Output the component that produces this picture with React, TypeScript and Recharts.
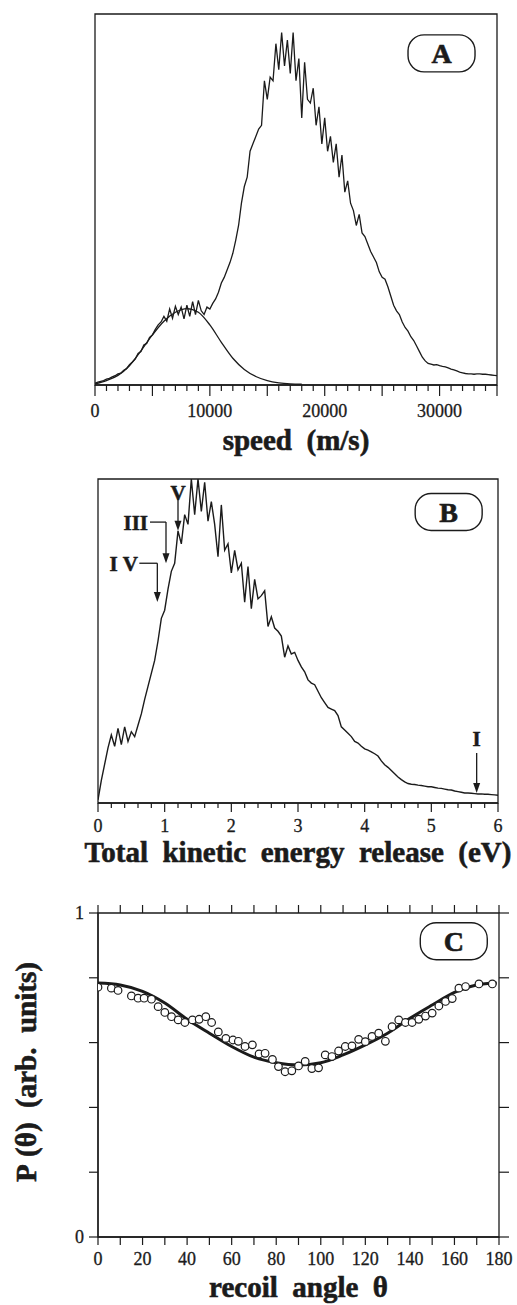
import React from "react";
import {
  LineChart,
  ComposedChart,
  Line,
  Scatter,
  XAxis,
  YAxis,
  Label,
  ReferenceLine,
  ReferenceDot,
  ReferenceArea,
} from "recharts";

const INK = "#1b1b1b";
const SERIF = "Liberation Serif, Times New Roman, Tinos, Times, DejaVu Serif, Noto Serif, serif";

// ---- A: fragment speed distribution (250 m/s bins) ----
const speedStep = 250;
const speedTotal = [
  0.005, 0.008, 0.01, 0.012, 0.016, 0.018, 0.022, 0.025, 0.03, 0.032,
  0.04, 0.044, 0.055, 0.062, 0.07, 0.085, 0.09, 0.108, 0.112, 0.128,
  0.135, 0.15, 0.162, 0.17, 0.185, 0.172, 0.205, 0.18, 0.212, 0.19,
  0.21, 0.178, 0.215, 0.185, 0.225, 0.19, 0.228, 0.2, 0.19, 0.21,
  0.205, 0.22, 0.232, 0.25, 0.275, 0.29, 0.31, 0.33, 0.355, 0.39,
  0.43, 0.49, 0.535, 0.56, 0.63, 0.65, 0.67, 0.69, 0.7, 0.82,
  0.77, 0.83, 0.82, 0.92, 0.85, 0.95, 0.86, 0.93, 0.84, 0.95,
  0.82, 0.88, 0.72, 0.87, 0.77, 0.76, 0.8, 0.7, 0.75, 0.65,
  0.72, 0.63, 0.67, 0.6, 0.65, 0.56, 0.62, 0.52, 0.55, 0.49,
  0.47, 0.43, 0.46, 0.41, 0.4, 0.38, 0.36, 0.345, 0.33, 0.305,
  0.29, 0.285, 0.265, 0.24, 0.215, 0.2, 0.19, 0.17, 0.155, 0.145,
  0.13, 0.12, 0.105, 0.09, 0.075, 0.065, 0.058, 0.056, 0.054, 0.055,
  0.052, 0.05, 0.049, 0.046, 0.043, 0.041, 0.038, 0.035, 0.033, 0.031,
  0.03, 0.03, 0.029, 0.03, 0.03, 0.029, 0.029, 0.028, 0.027, 0.026,
  0.025,
];
// slow component fitted under the low-speed shoulder
const slowSpeeds = [
  0, 1000, 2000, 3000, 4000, 5000, 6000, 7000, 8000, 9000,
  10000, 11000, 12000, 13000, 14000, 15000, 16000, 17000, 18000,
];
const slowValues = [
  0.003, 0.012, 0.026, 0.052, 0.092, 0.135, 0.172, 0.196, 0.206, 0.196,
  0.162, 0.115, 0.072, 0.042, 0.023, 0.012, 0.006, 0.003, 0.002,
];
const speedTickLabels = [0, 10000, 20000, 30000];

// ---- B: total kinetic energy release (0.05 eV bins) ----
const energyStep = 0.05;
const energyTotal = [
  0.01, 0.07, 0.12, 0.17, 0.21, 0.175, 0.23, 0.18, 0.235, 0.19,
  0.22, 0.205, 0.24, 0.275, 0.32, 0.36, 0.4, 0.44, 0.5, 0.57,
  0.595, 0.66, 0.715, 0.74, 0.84, 0.8, 0.89, 0.86, 1.0, 0.89,
  1.0, 0.9, 0.99, 0.87, 0.93, 0.86, 0.76, 0.92, 0.78, 0.8,
  0.71, 0.78, 0.72, 0.74, 0.62, 0.73, 0.6, 0.69, 0.63, 0.64,
  0.655, 0.545, 0.575, 0.54, 0.53, 0.515, 0.45, 0.485, 0.46, 0.465,
  0.44, 0.42, 0.405, 0.38, 0.37, 0.365, 0.345, 0.325, 0.31, 0.295,
  0.29, 0.285, 0.27, 0.235, 0.225, 0.215, 0.205, 0.19, 0.185, 0.175,
  0.167, 0.163, 0.158, 0.152, 0.145, 0.13, 0.118, 0.11, 0.1, 0.09,
  0.08, 0.072, 0.065, 0.06, 0.058, 0.057, 0.055, 0.054, 0.052, 0.05,
  0.05, 0.048, 0.046, 0.045, 0.043, 0.041, 0.04, 0.037, 0.035, 0.033,
  0.031, 0.031, 0.03, 0.029, 0.028, 0.028, 0.027, 0.027, 0.026, 0.025,
  0.024,
];
const energyTickLabels = [0, 1, 2, 3, 4, 5, 6];

// channel thresholds marked on the energy spectrum
const channelArrows = [
  { name: "V", labelE: 1.2, labelY: 0.957, anchor: "middle", elbow: null, x: 1.2, from: 0.94, to: 0.84 },
  { name: "III", labelE: 0.75, labelY: 0.867, anchor: "end", elbow: 0.78, x: 1.02, from: 0.867, to: 0.74 },
  { name: "I\u00a0V", labelE: 0.6, labelY: 0.74, anchor: "end", elbow: 0.62, x: 0.89, from: 0.74, to: 0.62 },
  { name: "I", labelE: 5.68, labelY: 0.2, anchor: "middle", elbow: null, x: 5.68, from: 0.154, to: 0.031 },
];

// ---- C: recoil angular distribution ----
const angleTickLabels = [0, 20, 40, 60, 80, 100, 120, 140, 160, 180];
const pointAngles = [
  0, 6, 9, 15, 18, 20.7, 24, 27, 30, 33, 36, 39, 42.4, 45.4, 48.4, 51, 54, 57.4,
  60.6, 63, 66, 69.3, 72.3, 75, 78.3, 81, 84, 87, 90, 93, 96, 99, 102, 105, 108,
  111, 114, 117, 120, 123, 126, 129, 132, 135, 138, 141, 144, 147, 150, 153, 156,
  159, 162, 165, 171, 177,
];
const pointValues = [
  0.771, 0.768, 0.761, 0.744, 0.737, 0.737, 0.734, 0.711, 0.693, 0.68, 0.67, 0.662,
  0.67, 0.672, 0.68, 0.662, 0.633, 0.613, 0.608, 0.604, 0.588, 0.593, 0.565, 0.567,
  0.548, 0.526, 0.51, 0.513, 0.528, 0.542, 0.52, 0.522, 0.562, 0.557, 0.574, 0.588,
  0.59, 0.61, 0.603, 0.619, 0.629, 0.604, 0.649, 0.67, 0.662, 0.662, 0.672, 0.682,
  0.691, 0.713, 0.727, 0.736, 0.768, 0.773, 0.781, 0.781,
];
const fitAngles = [0, 10, 20, 30, 40, 50, 60, 70, 80, 90, 100, 110, 120, 130, 140, 150, 160, 170, 179];
const fitValues = [
  0.784, 0.778, 0.758, 0.722, 0.672, 0.629, 0.588, 0.555, 0.538, 0.531,
  0.538, 0.562, 0.593, 0.629, 0.675, 0.716, 0.755, 0.778, 0.784,
];

const speedData = speedTotal.map((v, i) => ({ x: i * speedStep, y: v }));
const slowData = slowSpeeds.map((s, i) => ({ x: s, y: slowValues[i] }));
const energyData = energyTotal.map((v, i) => ({ x: +(i * energyStep).toFixed(2), y: v }));
const pointData = pointAngles.map((a, i) => ({ x: a, y: pointValues[i] }));
const fitData = fitAngles.map((a, i) => ({ x: a, y: fitValues[i] }));

const speedTicks = Array.from({ length: 36 }, (_, i) => i * 1000);
const energyTicks = Array.from({ length: 31 }, (_, i) => +(i * 0.2).toFixed(1));
const angleTicks = Array.from({ length: 19 }, (_, i) => i * 10);
const pTicks = [0, 0.2, 0.4, 0.6, 0.8, 1];

const near = (a: number, b: number) => Math.abs(a - b) < 1e-6;
const isMultiple = (v: number, m: number) => near(v / m, Math.round(v / m));

const frameLine = { stroke: INK, strokeWidth: 1.3 };

function bottomTick(labels: number[], major: number, long: number, short: number, baseline: number) {
  return (props: any) => {
    const { x, y, payload } = props;
    const v = payload.value;
    const len = isMultiple(v, major) ? long : short;
    const labelled = labels.some((l) => near(l, v));
    return (
      <g>
        <line x1={x} x2={x} y1={y} y2={y + len} stroke={INK} strokeWidth={1.2} />
        {labelled && (
          <text
            x={x}
            y={y + baseline}
            textAnchor="middle"
            fontSize={18}
            fill={INK}
            stroke={INK}
            strokeWidth={0.3}
            style={{ fontFamily: SERIF }}
          >
            {v}
          </text>
        )}
      </g>
    );
  };
}

const leftTick = (props: any) => {
  const { x, y, payload } = props;
  const v = payload.value;
  return (
    <g>
      <line x1={x - 9} x2={x} y1={y} y2={y} stroke={INK} strokeWidth={1.2} />
      {(v === 0 || v === 1) && (
        <text
          x={x - 14}
          y={y}
          dy="0.34em"
          textAnchor="end"
          fontSize={18}
          fill={INK}
          stroke={INK}
          strokeWidth={0.3}
          style={{ fontFamily: SERIF }}
        >
          {v}
        </text>
      )}
    </g>
  );
};

// short outward marks on the top and right edges of the angular panel
const topTickMark = (p: any) => {
  const top = Math.min(p.y1, p.y2);
  return <line x1={p.x1} x2={p.x1} y1={top} y2={top - 8} stroke={INK} strokeWidth={1.2} />;
};
const rightTickMark = (p: any) => {
  const right = Math.max(p.x1, p.x2);
  return <line x1={right} x2={right + 10} y1={p.y1} y2={p.y1} stroke={INK} strokeWidth={1.2} />;
};

const titleProps = {
  fontSize: 29,
  fontWeight: 700,
  fill: INK,
  stroke: INK,
  strokeWidth: 0.6,
  style: { fontFamily: SERIF },
};

function panelTag(letter: string) {
  return (p: any) => (
    <g>
      <rect x={p.cx - 33.5} y={p.cy - 18.5} width={67} height={37} rx={16} fill="none" stroke={INK} strokeWidth={1.4} />
      <text x={p.cx} y={p.cy + 10} textAnchor="middle" fontSize={28} fontWeight={700} fill={INK} stroke={INK} strokeWidth={0.6} style={{ fontFamily: SERIF }}>
        {letter}
      </text>
    </g>
  );
}

const downArrow = (p: any) => {
  const { x1, y1, x2, y2 } = p;
  return (
    <g>
      <line x1={x1} y1={y1} x2={x2} y2={y2 - 6} stroke={INK} strokeWidth={1.3} />
      <path d={`M${x2 - 3.5},${y2 - 10} L${x2 + 3.5},${y2 - 10} L${x2},${y2} Z`} fill={INK} />
    </g>
  );
};

function arrowLabel(text: string, anchor: string) {
  return (p: any) => (
    <text
      x={p.cx}
      y={p.cy}
      dy="0.36em"
      textAnchor={anchor as any}
      fontSize={21}
      fontWeight={700}
      fill={INK}
      stroke={INK}
      strokeWidth={0.5}
      style={{ fontFamily: SERIF }}
    >
      {text}
    </text>
  );
}

function SpeedPanel() {
  return (
    <LineChart width={517} height={470} margin={{ top: 14, right: 20, bottom: 20, left: 95 }}>
      <XAxis
        dataKey="x"
        type="number"
        domain={[0, 35000]}
        ticks={speedTicks}
        interval={0}
        allowDataOverflow
        height={65}
        tickSize={0}
        tickMargin={0}
        axisLine={frameLine}
        tick={bottomTick(speedTickLabels, 5000, 11, 6, 32)}
      >
        <Label position="insideBottom" offset={0} value={"speed\u00a0 (m/s)"} {...titleProps} />
      </XAxis>
      <YAxis type="number" domain={[0, 1]} allowDataOverflow width={0} tick={false} tickLine={false} axisLine={frameLine} />
      <ReferenceArea x1={0} x2={35000} y1={0} y2={1} fill="none" stroke={INK} strokeWidth={1.3} />
      <Line data={slowData} dataKey="y" type="monotone" dot={false} stroke={INK} strokeWidth={1.3} isAnimationActive={false} />
      <Line data={speedData} dataKey="y" type="linear" dot={false} stroke={INK} strokeWidth={1.3} isAnimationActive={false} />
      <ReferenceDot x={30170} y={0.894} r={0} shape={panelTag("A")} />
    </LineChart>
  );
}

function EnergyPanel() {
  return (
    <LineChart width={517} height={410} margin={{ top: 19, right: 19, bottom: 8, left: 98 }}>
      <XAxis
        dataKey="x"
        type="number"
        domain={[0, 6]}
        ticks={energyTicks}
        interval={0}
        allowDataOverflow
        height={59}
        tickSize={0}
        tickMargin={0}
        axisLine={frameLine}
        tick={bottomTick(energyTickLabels, 1, 9, 5, 29)}
      >
        <Label position="insideBottom" offset={0} value={"Total\u00a0 kinetic\u00a0 energy\u00a0 release\u00a0 (eV)"} {...titleProps} />
      </XAxis>
      <YAxis type="number" domain={[0, 1]} allowDataOverflow width={0} tick={false} tickLine={false} axisLine={frameLine} />
      <ReferenceArea x1={0} x2={6} y1={0} y2={1} fill="none" stroke={INK} strokeWidth={1.3} />
      <Line data={energyData} dataKey="y" type="linear" dot={false} stroke={INK} strokeWidth={1.4} isAnimationActive={false} />
      {channelArrows.map((c) => (
        <ReferenceDot key={`lbl-${c.name}`} x={c.labelE} y={c.labelY} r={0} shape={arrowLabel(c.name, c.anchor)} />
      ))}
      {channelArrows
        .filter((c) => c.elbow !== null)
        .map((c) => (
          <ReferenceLine
            key={`elbow-${c.name}`}
            segment={[{ x: c.elbow as number, y: c.from }, { x: c.x, y: c.from }]}
            stroke={INK}
            strokeWidth={1.3}
          />
        ))}
      {channelArrows.map((c) => (
        <ReferenceLine key={`arrow-${c.name}`} segment={[{ x: c.x, y: c.from }, { x: c.x, y: c.to }]} shape={downArrow} />
      ))}
      <ReferenceDot x={5.26} y={0.898} r={0} shape={panelTag("B")} />
    </LineChart>
  );
}

function AnglePanel() {
  return (
    <ComposedChart width={517} height={415} margin={{ top: 23, right: 18, bottom: 8, left: 0 }}>
      <XAxis
        dataKey="x"
        type="number"
        domain={[0, 180]}
        ticks={angleTicks}
        interval={0}
        allowDataOverflow
        height={60}
        tickSize={0}
        tickMargin={0}
        axisLine={frameLine}
        tick={bottomTick(angleTickLabels, 10, 8, 8, 28)}
      >
        <Label position="insideBottom" offset={0} value={"recoil\u00a0 angle\u00a0 \u03b8"} {...titleProps} />
      </XAxis>
      <YAxis
        type="number"
        domain={[0, 1]}
        ticks={pTicks}
        interval={0}
        allowDataOverflow
        width={98}
        tickSize={0}
        tickMargin={0}
        axisLine={frameLine}
        tick={leftTick}
      >
        <Label
          content={(p: any) => {
            const vb = p.viewBox || { x: 0, y: 23, width: 98, height: 324 };
            const cx = vb.x + 36;
            const cy = vb.y + vb.height / 2 - 3;
            return (
              <text
                x={cx}
                y={cy}
                transform={`rotate(-90 ${cx} ${cy})`}
                textAnchor="middle"
                fontSize={29}
                fontWeight={700}
                fill={INK}
                stroke={INK}
                strokeWidth={0.6}
                style={{ fontFamily: SERIF }}
              >
                {"P\u00a0(\u03b8)\u00a0 (arb.\u00a0 units)"}
              </text>
            );
          }}
        />
      </YAxis>
      <ReferenceArea x1={0} x2={180} y1={0} y2={1} fill="none" stroke={INK} strokeWidth={1.3} />
      {angleTicks.map((a) => (
        <ReferenceLine key={`top-${a}`} x={a} shape={topTickMark} />
      ))}
      {pTicks.map((v) => (
        <ReferenceLine key={`right-${v}`} y={v} shape={rightTickMark} />
      ))}
      <Line data={fitData} dataKey="y" type="monotone" dot={false} stroke={INK} strokeWidth={3} isAnimationActive={false} />
      <Scatter
        data={pointData}
        dataKey="y"
        isAnimationActive={false}
        shape={(p: any) => <circle cx={p.cx} cy={p.cy} r={3.8} fill="#fff" stroke={INK} strokeWidth={1.2} />}
      />
      <ReferenceDot x={159.7} y={0.913} r={0} shape={panelTag("C")} />
    </ComposedChart>
  );
}

export default function App() {
  return (
    <div
      style={{
        position: "absolute",
        left: 0,
        top: 0,
        width: 517,
        height: 1305,
        background: "#fff",
        fontFamily: SERIF,
      }}
    >
      <div style={{ position: "absolute", left: 0, top: 0 }}>
        <SpeedPanel />
      </div>
      <div style={{ position: "absolute", left: 0, top: 460 }}>
        <EnergyPanel />
      </div>
      <div style={{ position: "absolute", left: 0, top: 890 }}>
        <AnglePanel />
      </div>
    </div>
  );
}
